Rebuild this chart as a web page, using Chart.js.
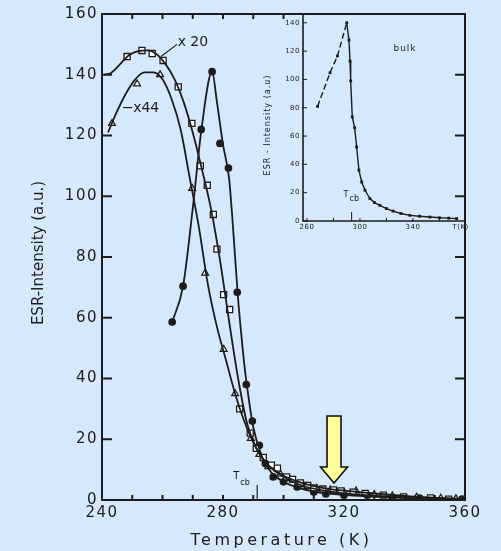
<!DOCTYPE html>
<html>
<head>
<meta charset="utf-8">
<script src="https://cdn.jsdelivr.net/npm/chart.js@4.4.1/dist/chart.umd.min.js"></script>
<style>
  html, body { margin: 0; padding: 0; background: #d6e8fb; }
  #wrap { position: relative; width: 501px; height: 551px; }
  #main { position: absolute; left: 0; top: 0; }
  #inset { position: absolute; left: 250px; top: 0; }
</style>
</head>
<body>
<div id="wrap">
  <canvas id="main" width="501" height="551"></canvas>
  <canvas id="inset" width="251" height="240"></canvas>
</div>
<script>
// ---- main plot: films, x20 (squares) / x44 (triangles) / filled circles ----
const x20CurveT = [240.5, 243, 246, 249, 252, 255, 258, 261, 264, 267, 270, 273, 276, 279, 282, 285, 288, 291, 295, 300, 305, 310, 316, 324, 333, 342, 351, 360];
const x20CurveY = [140, 140.6, 143.5, 146.5, 147.8, 148, 146.8, 143.5, 138.5, 131, 121, 109, 96, 79, 59, 40, 25, 17, 11.5, 8, 6, 4.6, 3.5, 2.7, 1.9, 1.2, 0.7, 0.3];
const x20MarkT = [248.3, 253.2, 256.6, 260.2, 265.2, 269.7, 272.5, 274.8, 276.8, 278, 280.2, 282.2, 285.5, 289, 291, 293.3, 296, 298, 301, 303, 305.6, 308, 310, 313, 316.5, 319, 323, 327, 333, 339.7, 348.6, 354.6];
const x20MarkY = [146, 148, 147, 144.7, 136, 124, 110, 103.6, 94, 82.6, 67.6, 62.7, 30, 22, 17, 14, 11.5, 10.5, 7.6, 6.8, 5.6, 4.8, 4, 3.6, 3.3, 3, 2.6, 2.2, 1.6, 1, 0.7, 0.3];

const x44CurveT = [242, 245, 248, 251, 254, 257, 260, 263, 266, 269, 272, 275, 278, 281, 284, 287, 290, 294, 298, 303, 308, 314, 320, 330, 340, 350, 360];
const x44CurveY = [121, 128, 134, 138.5, 140.8, 140.8, 138.5, 132, 122, 106, 90, 71, 57, 46, 35, 26, 19, 12.5, 9, 6, 4.2, 3, 2.2, 1.4, 0.9, 0.6, 0.3];
const x44MarkT = [243.3, 251.6, 259.2, 269.8, 274.1, 280.2, 284, 289.2, 292, 295, 299, 302, 306, 311, 315.5, 320, 324, 330, 336, 344, 352, 357];
const x44MarkY = [124, 137, 140, 102.6, 74.7, 49.6, 35, 20.3, 15, 11, 8.5, 7, 5, 3.8, 3.3, 2.6, 3, 1.8, 1.3, 0.9, 0.6, 0.4];

const fullCurveT = [263.2, 266.8, 270, 273, 276.4, 278, 280, 282, 283, 284, 285, 286, 287, 288, 290, 293, 296, 300, 305, 310, 316, 322, 330, 340, 350, 360];
const fullCurveY = [58.6, 70.4, 96, 123, 141, 131, 117, 106, 94, 80, 66, 55, 45, 37, 24, 14, 9, 6, 4, 2.8, 2, 1.5, 1.1, 0.7, 0.4, 0.2];
const fullMarkT = [263.2, 266.8, 272.8, 276.4, 279, 281.8, 284.7, 287.7, 289.7, 292, 294, 296.6, 300, 304.5, 310, 314, 320, 327.7, 336, 345, 359];
const fullMarkY = [58.6, 70.4, 122, 141, 117.4, 109.3, 68.4, 38, 26, 18, 12, 7.6, 6, 4.3, 2.6, 2, 1.6, 1.6, 0.7, 0.6, 0.3];

const mainXTicks = [240, 250, 260, 270, 280, 290, 300, 310, 320, 330, 340, 350, 360];
const mainXLabels = [240, 280, 320, 360];
const mainYTicks = [0, 20, 40, 60, 80, 100, 120, 140, 160];
const tcbFilm = 291.3;
const arrowT = 316.7, arrowY = 5.6;

// ---- inset: bulk ----
const bulkT = [268, 277.4, 283, 290, 291.7, 292.5, 293, 294.2, 296, 297.5, 299.2, 301.3, 303.8, 307.5, 311, 315, 320, 325, 331, 337.7, 345, 352.8, 360, 367, 373];
const bulkY = [81, 104.7, 116.5, 140, 127.8, 113, 99, 73.5, 65.8, 52.3, 35.9, 27.6, 21.7, 15.8, 13, 11.1, 8.8, 7, 5.3, 4, 3.4, 2.8, 2.3, 2, 1.7];
const insetXTicks = [260, 280, 300, 320, 340, 360];
const insetXLabels = [260, 300, 340];
const insetYTicks = [0, 20, 40, 60, 80, 100, 120, 140];
const tcbBulk = 293.7;

const ink = '#1c1c1c';
const pts = (xs, ys) => xs.map((x, i) => ({ x: x, y: ys[i] }));

function curve(xs, ys) {
  return { data: pts(xs, ys), showLine: true, borderColor: ink, borderWidth: 1.8,
           pointRadius: 0, cubicInterpolationMode: 'monotone' };
}
function marks(xs, ys, style, r, fill) {
  return { data: pts(xs, ys), showLine: false, pointStyle: style, pointRadius: r,
           pointBackgroundColor: fill, pointBorderColor: ink, pointBorderWidth: 1.3 };
}

function drawSub(ctx, px, py, big, small, bigSize, smallSize) {
  ctx.font = bigSize + 'px "DejaVu Sans"';
  ctx.textAlign = 'left';
  ctx.textBaseline = 'alphabetic';
  ctx.fillText(big, px, py);
  const w = ctx.measureText(big).width;
  ctx.font = smallSize + 'px "DejaVu Sans"';
  ctx.fillText(small, px + w + 1, py + bigSize * 0.55);
}

const mainDecor = {
  id: 'mainDecor',
  beforeDraw(chart) { chart.ctx.letterSpacing = '1.5px'; },
  afterDraw(chart) {
    const { ctx, chartArea: a, scales: { x, y } } = chart;
    ctx.save();
    ctx.letterSpacing = '0px';
    ctx.strokeStyle = ink;
    ctx.fillStyle = ink;
    ctx.lineWidth = 2;
    ctx.strokeRect(a.left, a.top, a.right - a.left, a.bottom - a.top);
    ctx.beginPath();
    mainXTicks.forEach(v => {
      const px = x.getPixelForValue(v);
      ctx.moveTo(px, a.bottom); ctx.lineTo(px, a.bottom - 5);
      if (v <= 300) { ctx.moveTo(px, a.top); ctx.lineTo(px, a.top + 5); }
    });
    mainYTicks.forEach(v => {
      const py = y.getPixelForValue(v);
      ctx.moveTo(a.left, py); ctx.lineTo(a.left + 10, py);
      ctx.moveTo(a.right, py); ctx.lineTo(a.right - 10, py);
    });
    ctx.stroke();

    // axis titles
    ctx.font = '16px "DejaVu Sans"';
    ctx.letterSpacing = '3.5px';
    ctx.textAlign = 'center';
    ctx.textBaseline = 'alphabetic';
    ctx.fillText('Temperature (K)', (a.left + a.right) / 2 - 2, 545);
    ctx.letterSpacing = '0px';
    ctx.save();
    ctx.translate(39, (a.top + a.bottom) / 2 - 4);
    ctx.rotate(-Math.PI / 2);
    ctx.font = '15px "DejaVu Sans"';
    ctx.textBaseline = 'middle';
    ctx.fillText('ESR-Intensity (a.u.)', 0, 0);
    ctx.restore();

    // curve labels
    ctx.lineWidth = 1.2;
    ctx.font = '14px "DejaVu Sans"';
    ctx.textAlign = 'left';
    ctx.textBaseline = 'middle';
    ctx.fillText('x 20', x.getPixelForValue(265), y.getPixelForValue(150.5));
    ctx.beginPath();
    ctx.moveTo(x.getPixelForValue(264.8), y.getPixelForValue(150));
    ctx.lineTo(x.getPixelForValue(259.5), y.getPixelForValue(146));
    ctx.stroke();
    ctx.fillText('x44', x.getPixelForValue(250.3), y.getPixelForValue(129));
    ctx.beginPath();
    ctx.moveTo(x.getPixelForValue(247), y.getPixelForValue(129.2));
    ctx.lineTo(x.getPixelForValue(250), y.getPixelForValue(129.2));
    ctx.stroke();

    // Tcb marker
    const tx = x.getPixelForValue(tcbFilm);
    ctx.beginPath();
    ctx.moveTo(tx, a.bottom); ctx.lineTo(tx, a.bottom - 15);
    ctx.stroke();
    drawSub(ctx, tx - 24, a.bottom - 21, 'T', 'cb', 10, 8);

    // yellow arrow
    const ax = x.getPixelForValue(arrowT), ay = y.getPixelForValue(arrowY);
    ctx.beginPath();
    ctx.moveTo(ax, ay);
    ctx.lineTo(ax - 13.5, ay - 16);
    ctx.lineTo(ax - 7, ay - 16);
    ctx.lineTo(ax - 7, ay - 67);
    ctx.lineTo(ax + 7, ay - 67);
    ctx.lineTo(ax + 7, ay - 16);
    ctx.lineTo(ax + 13.5, ay - 16);
    ctx.closePath();
    ctx.fillStyle = '#ffff99';
    ctx.fill();
    ctx.lineWidth = 1.6;
    ctx.strokeStyle = '#111';
    ctx.stroke();
    ctx.restore();
  }
};

new Chart(document.getElementById('main'), {
  type: 'scatter',
  data: {
    datasets: [
      curve(x20CurveT, x20CurveY),
      curve(x44CurveT, x44CurveY),
      curve(fullCurveT, fullCurveY),
      marks(x20MarkT, x20MarkY, 'rect', 4.3, '#ffffff'),
      marks(x44MarkT, x44MarkY, 'triangle', 3.9, '#ffffff'),
      marks(fullMarkT, fullMarkY, 'circle', 3.2, ink)
    ]
  },
  options: {
    responsive: false,
    animation: false,
    layout: { padding: { left: 0, right: 36, top: 14, bottom: 0 } },
    plugins: { legend: { display: false }, tooltip: { enabled: false } },
    scales: {
      x: {
        type: 'linear', min: 240, max: 360,
        afterBuildTicks: s => { s.ticks = mainXLabels.map(v => ({ value: v })); },
        ticks: { color: ink, font: { family: 'DejaVu Sans', size: 15 }, padding: 4, maxRotation: 0, autoSkip: false },
        grid: { display: false, drawTicks: false },
        border: { display: false },
        afterFit: s => { s.height = 51; s.paddingLeft = 0; s.paddingRight = 0; }
      },
      y: {
        min: 0, max: 160,
        afterBuildTicks: s => { s.ticks = mainYTicks.map(v => ({ value: v })); },
        ticks: { color: ink, font: { family: 'DejaVu Sans', size: 15 }, padding: 4 },
        grid: { display: false, drawTicks: false },
        border: { display: false },
        afterFit: s => { s.width = 102; s.paddingTop = 0; s.paddingBottom = 0; }
      }
    }
  },
  plugins: [mainDecor]
});

const insetDecor = {
  id: 'insetDecor',
  beforeDraw(chart) { chart.ctx.letterSpacing = '0.5px'; },
  afterDraw(chart) {
    const { ctx, chartArea: a, scales: { x, y } } = chart;
    ctx.save();
    ctx.letterSpacing = '0px';
    ctx.strokeStyle = ink;
    ctx.fillStyle = ink;
    ctx.lineWidth = 1.6;
    ctx.beginPath();
    ctx.moveTo(a.left, a.top); ctx.lineTo(a.left, a.bottom); ctx.lineTo(a.right, a.bottom);
    ctx.stroke();
    ctx.lineWidth = 1;
    ctx.beginPath();
    insetYTicks.forEach(v => {
      const py = y.getPixelForValue(v);
      ctx.moveTo(a.left, py); ctx.lineTo(a.left + 4, py);
    });
    insetXTicks.forEach(v => {
      const px = x.getPixelForValue(v);
      ctx.moveTo(px, a.bottom); ctx.lineTo(px, a.bottom - 3);
    });
    const tx = x.getPixelForValue(tcbBulk);
    ctx.moveTo(tx, a.bottom); ctx.lineTo(tx, a.bottom - 9);
    ctx.stroke();
    drawSub(ctx, tx - 8, a.bottom - 24, 'T', 'cb', 8, 8);

    ctx.font = '7px "DejaVu Sans"';
    ctx.letterSpacing = '0.5px';
    ctx.textAlign = 'center';
    ctx.textBaseline = 'middle';
    ctx.fillText('T(K)', x.getPixelForValue(376), a.bottom + 6);

    ctx.save();
    ctx.translate(18, 125);
    ctx.rotate(-Math.PI / 2);
    ctx.font = '8px "DejaVu Sans"';
    ctx.letterSpacing = '1px';
    ctx.fillText('ESR - Intensity (a.u)', 0, 0);
    ctx.restore();

    ctx.font = '9px "DejaVu Sans"';
    ctx.letterSpacing = '1px';
    ctx.fillText('bulk', x.getPixelForValue(334), y.getPixelForValue(121.4));
    ctx.restore();
  }
};

new Chart(document.getElementById('inset'), {
  type: 'scatter',
  data: {
    datasets: [{
      data: pts(bulkT, bulkY),
      showLine: true,
      borderColor: ink,
      borderWidth: 1.4,
      tension: 0,
      segment: { borderDash: c => c.p1.parsed.x <= 290 ? [6, 3] : undefined },
      pointStyle: 'rect',
      pointRadius: 2,
      pointBackgroundColor: ink,
      pointBorderColor: ink,
      pointBorderWidth: 0
    }]
  },
  options: {
    responsive: false,
    animation: false,
    layout: { padding: { left: 0, right: 36, top: 14, bottom: 0 } },
    plugins: { legend: { display: false }, tooltip: { enabled: false } },
    scales: {
      x: {
        type: 'linear', min: 257, max: 379.3,
        afterBuildTicks: s => { s.ticks = insetXLabels.map(v => ({ value: v })); },
        ticks: { color: ink, font: { family: 'DejaVu Sans', size: 7 }, padding: 2, maxRotation: 0, autoSkip: false },
        grid: { display: false, drawTicks: false },
        border: { display: false },
        afterFit: s => { s.height = 19; s.paddingLeft = 0; s.paddingRight = 0; }
      },
      y: {
        min: 0, max: 146.2,
        afterBuildTicks: s => { s.ticks = insetYTicks.map(v => ({ value: v })); },
        ticks: { color: ink, font: { family: 'DejaVu Sans', size: 7 }, padding: 3 },
        grid: { display: false, drawTicks: false },
        border: { display: false },
        afterFit: s => { s.width = 53; s.paddingTop = 0; s.paddingBottom = 0; }
      }
    }
  },
  plugins: [insetDecor]
});
</script>
</body>
</html>
